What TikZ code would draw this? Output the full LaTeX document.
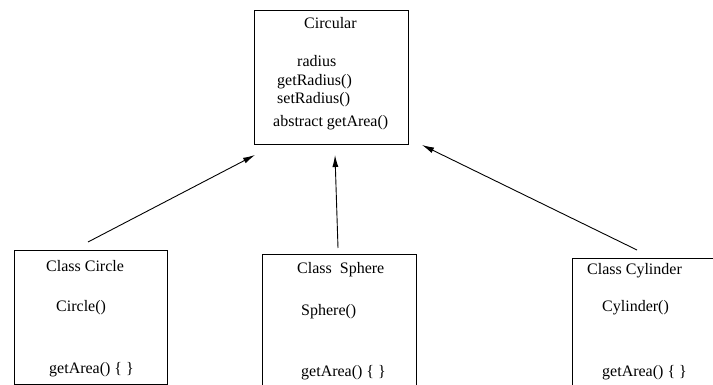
\documentclass[tikz,border=0pt]{standalone}
\usepackage{fontspec}
\setmainfont{Liberation Serif}
\usetikzlibrary{arrows.meta}
\tikzset{
  classbox/.style={draw=black, line width=0.9pt, fill=none},
  lbl/.style={anchor=base west, inner sep=0pt, font=\fontsize{16}{19}\selectfont},
  inherit/.style={draw=black, line width=0.9pt, -{Latex[length=12pt,width=6pt]}}
}
\begin{document}
\begin{tikzpicture}[x=1pt,y=-1pt]
\useasboundingbox (0,0) rectangle (713,385);
\clip (0,0) rectangle (713,385);
\fill[white] (0,0) rectangle (713,385);
% boxes
\draw[classbox] (254,10) rectangle (408,144);
\draw[classbox] (14,250) rectangle (167,384);
\draw[classbox] (262,254) rectangle (416,395);
\draw[classbox] (572,258) rectangle (725,395);
% top class texts
\node[lbl] (circular) at (304,29) {Circular};
\node[lbl] (radius) at (297,67) {radius};
\node[lbl] (getr) at (277,86) {getRadius()};
\node[lbl] (setr) at (277,104) {setRadius()};
\node[lbl] (abs) at (273,127) {abstract getArea()};
% circle
\node[lbl] (cc) at (46,271) {Class Circle};
\node[lbl] (ccons) at (56,311) {Circle()};
\node[lbl] (cga) at (49,373) {getArea() \{ \}};
% sphere
\node[lbl] (sc) at (297,273) {Class\ \ Sphere};
\node[lbl] (scons) at (301,315) {Sphere()};
\node[lbl] (sga) at (301,376) {getArea() \{ \}};
% cylinder
\node[lbl] (yc) at (587,275) {Class Cylinder};
\node[lbl] (ycons) at (602,311) {Cylinder()};
\node[lbl] (yga) at (602,376) {getArea() \{ \}};
% arrow end points
\coordinate (c1) at (88,242);
\coordinate (t1) at (255,155);
\coordinate (c2) at (338,248);
\coordinate (t2) at (335,155);
\coordinate (c3) at (637,250);
\coordinate (t3) at (422,145);
\draw[inherit] (c1) -- (t1);
\draw[inherit] (c2) -- (t2);
\draw[inherit] (c3) -- (t3);
\end{tikzpicture}
\end{document}
